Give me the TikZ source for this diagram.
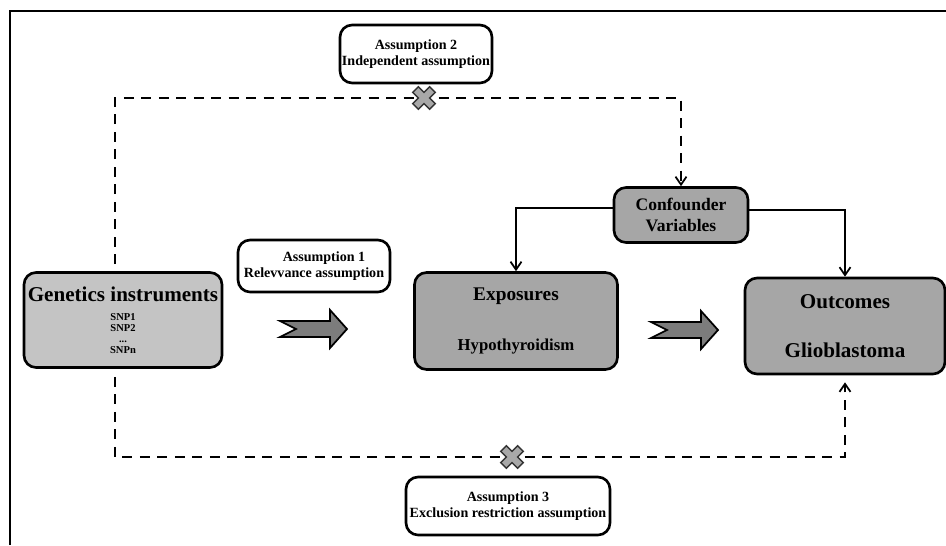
\documentclass[tikz,border=0pt]{standalone}
\usepackage{fontspec}
\setmainfont{Liberation Serif}
\usetikzlibrary{arrows.meta}

\definecolor{boxlight}{HTML}{C4C4C4}
\definecolor{boxdark}{HTML}{A6A6A6}
\definecolor{chevfill}{HTML}{7C7C7C}
\definecolor{xfill}{HTML}{A8A8A8}

\tikzset{
  gbox/.style={draw, line width=1.5pt, rounded corners=0.24cm, align=center, font=\bfseries, inner sep=0pt},
  abox/.style={gbox, fill=white, font=\bfseries\fontsize{8}{9.5}\selectfont},
  dashline/.style={line width=1.3pt, dash pattern=on 0.2cm off 0.15cm},
  tip/.style={-{Straight Barb[length=0.16cm,width=0.22cm,line width=1pt]}},
  chev/.style={draw, line width=1pt, fill=chevfill},
  xmk/.style={draw=black!80, line width=0.8pt, fill=xfill}
}

\begin{document}
\begin{tikzpicture}[x=0.02cm, y=-0.02cm]

  \useasboundingbox (0,0) rectangle (946,545);
  \draw[line width=1.4pt] (10,545) -- (10,11) -- (946,11); %FRAME

  % boxes
  \node[gbox, fill=boxlight, minimum width=3.96cm, minimum height=1.9cm,
        font=\bfseries\fontsize{6}{6.2}\selectfont] (gen) at (123,320)
    {{\fontsize{12}{13}\selectfont Genetics instruments}\\[5pt]
     SNP1\\SNP2\\...\\SNPn};
  \node[gbox, fill=boxdark, minimum width=4.06cm, minimum height=1.94cm] (expo) at (516,321)
    {{\fontsize{11}{12}\selectfont Exposures}\\[16pt]
     {\fontsize{9.5}{11}\selectfont Hypothyroidism}};
  \node[gbox, fill=boxdark, minimum width=4.0cm, minimum height=1.92cm] (out) at (845,326)
    {{\fontsize{12}{12}\selectfont Outcomes}\\[16pt]
     {\fontsize{12}{12}\selectfont Glioblastoma}};
  \node[gbox, fill=boxdark, minimum width=2.68cm, minimum height=1.1cm,
        font=\bfseries\fontsize{10}{12}\selectfont] (conf) at (681,215) {Confounder\\Variables};

  \node[abox, minimum width=3.04cm, minimum height=1.04cm] (as1) at (314,266)
    {\hspace*{0.4cm}Assumption 1\\Relevvance assumption};
  \node[abox, minimum width=3.04cm, minimum height=1.16cm] (as2) at (416,54)
    {Assumption 2\\Independent assumption};
  \node[abox, minimum width=4.08cm, minimum height=1.16cm] (as3) at (508,506)
    {Assumption 3\\Exclusion restriction assumption};

  % dashed paths
  \coordinate (tl) at (115,98);
  \coordinate (bl) at (115,457);
  \draw[dashline, tip] ([yshift=0.14cm]gen.north -| tl) -- (tl) -- (tl -| conf.north) -- (conf.north); %ZGORAJ
  \draw[dashline, tip] ([yshift=-0.16cm]gen.south -| bl) -- (bl) -- (bl -| out.south) -- ([yshift=-0.14cm]out.south); %SPODAJ

  % confounder arrows
  \draw[line width=1.2pt, tip] ([yshift=0.14cm]conf.west) -| (expo.north); %LEVO
  \draw[line width=1.2pt, tip] ([yshift=0.1cm]conf.east) -| (out.north); %DESNO

  % chevrons
  \draw[chev, shift={(280,329)}] (0,-8) -- (16,0) -- (0,8) -- (50,8) -- (50,19) -- (67,0) -- (50,-19) -- (50,-8) -- cycle;
  \draw[chev, shift={(651,330)}] (0,-8) -- (16,0) -- (0,8) -- (50,8) -- (50,19) -- (67,0) -- (50,-19) -- (50,-8) -- cycle;

  % crosses
  \draw[xmk, shift={(424,98)}, rotate=45] (-4,-12) -- (4,-12) -- (4,-4) -- (12,-4) -- (12,4) -- (4,4) -- (4,12) -- (-4,12) -- (-4,4) -- (-12,4) -- (-12,-4) -- (-4,-4) -- cycle;
  \draw[xmk, shift={(512,457)}, rotate=45] (-4,-12) -- (4,-12) -- (4,-4) -- (12,-4) -- (12,4) -- (4,4) -- (4,12) -- (-4,12) -- (-4,4) -- (-12,4) -- (-12,-4) -- (-4,-4) -- cycle;

\end{tikzpicture}
\end{document}
